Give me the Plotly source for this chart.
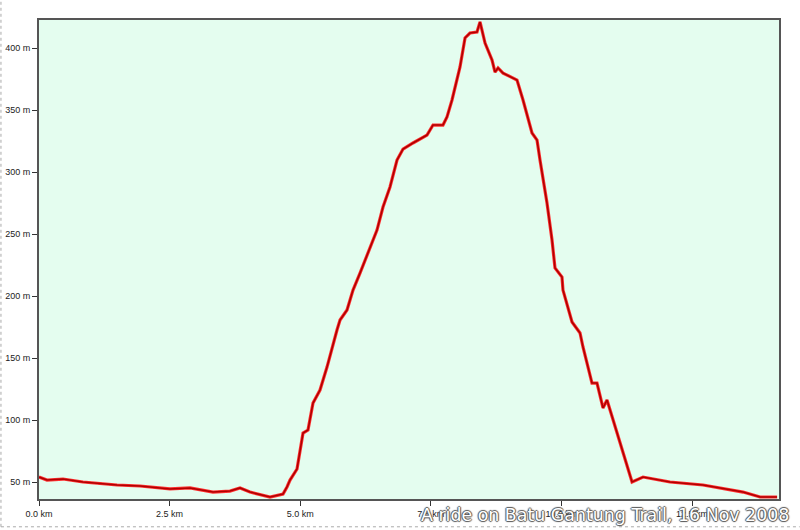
import plotly.graph_objects as go

# distance along trail (km) and elevation (m)
distance_km = [0.0, 0.153, 0.459, 0.842, 1.493, 1.933, 2.508, 2.890, 3.331, 3.656,
               3.848, 4.039, 4.422, 4.671, 4.747, 4.805, 4.939, 5.054, 5.149, 5.245,
               5.379, 5.513, 5.704, 5.762, 5.896, 6.011, 6.145, 6.336, 6.470, 6.585,
               6.719, 6.853, 6.968, 7.159, 7.427, 7.542, 7.733, 7.810, 7.906, 8.059,
               8.155, 8.250, 8.384, 8.442, 8.538, 8.672, 8.729, 8.787, 8.882, 9.150,
               9.265, 9.437, 9.533, 9.590, 9.724, 9.820, 9.877, 10.011, 10.030, 10.203,
               10.356, 10.413, 10.585, 10.681, 10.796, 10.873, 11.064, 11.256, 11.352, 11.562,
               11.888, 12.079, 12.711, 13.228, 13.477, 13.803, 14.128]
elevation_m = [54.0, 51.6, 52.4, 50.0, 47.6, 46.8, 44.4, 45.2, 41.9, 42.7,
               45.2, 41.9, 37.9, 40.3, 46.0, 51.6, 60.5, 89.5, 91.9, 113.7,
               124.2, 142.7, 172.6, 180.6, 188.7, 204.8, 218.5, 239.5, 253.2, 271.8,
               287.9, 309.7, 318.5, 323.4, 329.8, 337.9, 337.9, 344.4, 358.1, 384.7,
               408.1, 412.1, 412.9, 421.0, 404.0, 390.3, 380.6, 383.9, 379.8, 374.2,
               358.1, 331.5, 325.8, 309.7, 275.0, 245.2, 222.6, 215.3, 204.8, 179.0,
               170.2, 158.9, 129.8, 129.8, 109.7, 116.1, 89.5, 62.1, 50.0, 54.0,
               51.6, 50.0, 47.6, 43.5, 41.9, 37.9, 37.9]

tick_vals_km = [0.0, 2.5, 5.0, 7.5, 10.0, 12.5]
tick_text_km = ["0.0 km", "2.5 km", "5.0 km", "7.5 km", "10.0 km", "12.5 km"]
tick_vals_m = [50, 100, 150, 200, 250, 300, 350, 400]
tick_text_m = ["50 m", "100 m", "150 m", "200 m", "250 m", "300 m", "350 m", "400 m"]

title_text = "A ride on Batu Gantung Trail, 16 Nov 2008"

fig = go.Figure()
fig.add_trace(go.Scatter(x=distance_km, y=elevation_m, mode="lines",
                         line=dict(color="#ff3030", width=3.2), hoverinfo="skip",
                         showlegend=False))
fig.add_trace(go.Scatter(x=distance_km, y=elevation_m, mode="lines",
                         line=dict(color="#b00000", width=1.6), showlegend=False))

axis_font = dict(family="Liberation Sans, Arial, sans-serif", size=9, color="#222222")
fig.update_xaxes(range=[0, 14.165], tickvals=tick_vals_km, ticktext=tick_text_km,
                 ticks="outside", ticklen=5, tickcolor="#333333", showgrid=False,
                 zeroline=False, showline=True, linecolor="#555555", linewidth=2,
                 mirror=True, tickfont=axis_font, automargin=False)
fig.update_yaxes(range=[36.3, 422.6], tickvals=tick_vals_m, ticktext=tick_text_m,
                 ticks="outside", ticklen=5, tickcolor="#333333", showgrid=False,
                 zeroline=False, showline=True, linecolor="#555555", linewidth=2,
                 mirror=True, tickfont=axis_font, automargin=False)

fig.add_annotation(text=title_text, xref="paper", yref="paper", x=1.016, y=-0.008,
                   xanchor="right", yanchor="top", showarrow=False,
                   font=dict(family="DejaVu Sans, Verdana, sans-serif", size=17.4,
                             color="#ffffff",
                             shadow="1px 0 1px #555, -1px 0 1px #555, 0 1px 1px #555, 0 -1px 1px #555"))

# dotted screenshot frame on left and bottom edges
fig.add_shape(type="line", xref="paper", yref="paper", x0=-0.0514, x1=-0.0514, y0=-0.058, y1=1.042,
              line=dict(color="#aaaaaa", width=1, dash="dot"))
fig.add_shape(type="line", xref="paper", yref="paper", x0=-0.0514, x1=1.028, y0=-0.058, y1=-0.058,
              line=dict(color="#aaaaaa", width=1, dash="dot"))

fig.update_layout(width=800, height=530, autosize=False,
                  margin=dict(l=39, r=21, t=20, b=31, autoexpand=False),
                  paper_bgcolor="#ffffff", plot_bgcolor="#e4fdef")

fig.write_html("out.html", config={"displayModeBar": False},
               post_script="document.body.style.margin='0';")
